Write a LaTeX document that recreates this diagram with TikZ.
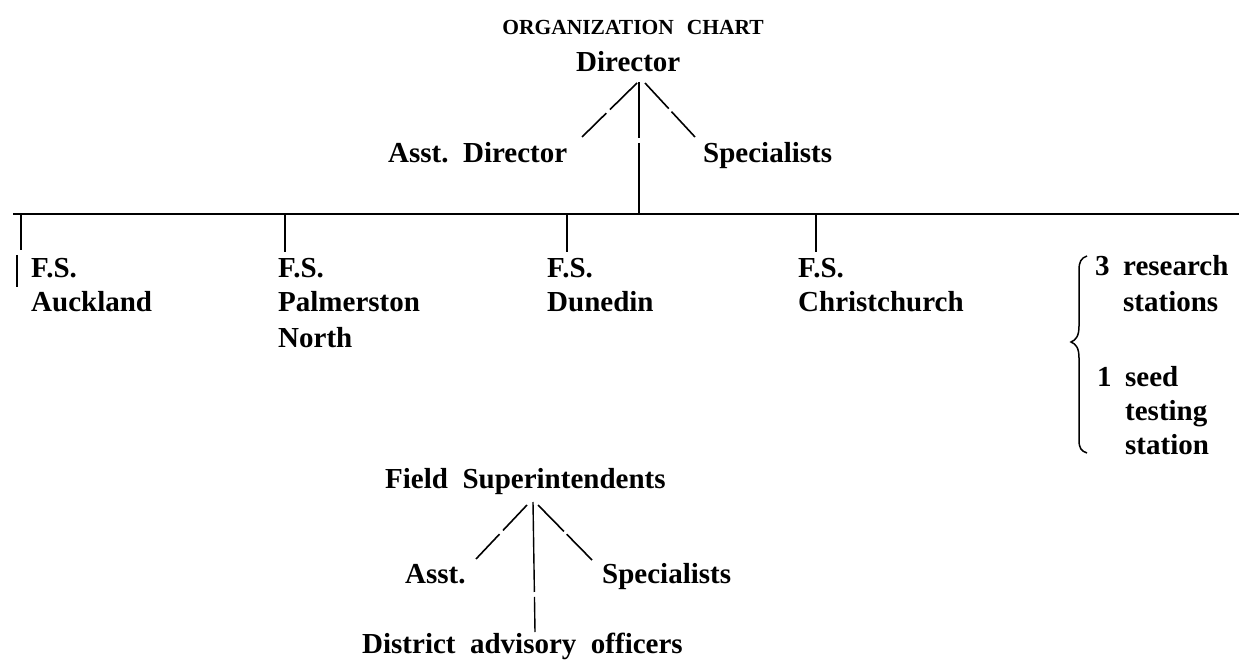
\documentclass[tikz,border=0pt]{standalone}
\usepackage{fontspec}
\setmainfont{Liberation Serif}
\newcommand\lblfont{\fontsize{29}{34}\selectfont\bfseries\frenchspacing\spaceskip 0.5em\relax}
\newcommand\ttlfont{\fontsize{21.5}{24}\selectfont\bfseries\frenchspacing\spaceskip 0.6em\relax}
\tikzset{
  lbl/.style={inner sep=0pt, anchor=base west, font=\lblfont},
  ttl/.style={inner sep=0pt, anchor=base, font=\ttlfont},
  conn/.style={line width=1.6pt, line cap=butt},
  rule/.style={line width=2pt},
}
\begin{document}
\begin{tikzpicture}[x=1pt,y=-1pt]
\useasboundingbox (0,0) rectangle (1239,660);
% --- top part
\node[ttl] (title) at (633,35) {ORGANIZATION CHART};
\node[lbl] (dir) at (576,72) {Director};
\node[lbl] (ad) at (388,163) {Asst. Director};
\node[lbl] (spec) at (703,163) {Specialists};
\coordinate (dirL) at (637,83);
\coordinate (dirR) at (645,83);
\coordinate (dirV) at (639,82);
\coordinate (adT) at (582,137);
\coordinate (spT) at (695,137);
\coordinate (hv) at (639,214);
\draw[conn, dash pattern=on 38pt off 5pt on 40pt off 0pt] (dirL) -- (adT);
\draw[conn, dash pattern=on 35pt off 4pt on 40pt off 0pt] (dirR) -- (spT);
\draw[conn, line width=1.4pt, dash pattern=on 56pt off 5pt on 80pt off 0pt] (dirV) -- (hv);
% --- horizontal rule
\coordinate (h0) at (13,214);
\coordinate (h1) at (1239,214);
\draw[rule] (h0) -- (h1);
% --- ticks
\coordinate (t1a) at (21,215); \coordinate (t1b) at (21,250);
\coordinate (b1a) at (17,255); \coordinate (b1b) at (17,287);
\coordinate (t2a) at (285,215); \coordinate (t2b) at (285,252);
\coordinate (t3a) at (567,215); \coordinate (t3b) at (567,252);
\coordinate (t4a) at (816,215); \coordinate (t4b) at (816,252);
\draw[conn, line width=1.3pt] (t1a) -- (t1b);
\draw[conn, line width=1.3pt] (b1a) -- (b1b);
\draw[conn, line width=1.3pt] (t2a) -- (t2b);
\draw[conn, line width=1.3pt] (t3a) -- (t3b);
\draw[conn, line width=1.3pt] (t4a) -- (t4b);
% --- field stations
\node[lbl] (fs1) at (31,278) {F.S.};
\node[lbl] (fs1b) at (31,312) {Auckland};
\node[lbl] (fs2) at (278,278) {F.S.};
\node[lbl] (fs2b) at (278,312) {Palmerston};
\node[lbl] (fs2c) at (278,347) {North};
\node[lbl] (fs3) at (547,278) {F.S.};
\node[lbl] (fs3b) at (547,312) {Dunedin};
\node[lbl] (fs4) at (798,278) {F.S.};
\node[lbl] (fs4b) at (798,312) {Christchurch};
% --- brace
\coordinate (brT) at (1087,256);
\coordinate (brM) at (1071,342);
\coordinate (brB) at (1087,453);
\draw[line width=1.5pt] (brT) .. controls (1081,258) and (1079,262) .. (1079,270)
  -- (1079,326) .. controls (1079,336) and (1076,340) .. (brM)
  .. controls (1076,344) and (1079,348) .. (1079,358)
  -- (1079,440) .. controls (1079,448) and (1081,451) .. (brB);
\node[lbl] (r3) at (1095,276) {3};
\node[lbl] (r3a) at (1123,276) {research};
\node[lbl] (r3b) at (1123,311) {stations};
\node[lbl] (s1) at (1097,386) {1};
\node[lbl] (s1a) at (1125,386) {seed};
\node[lbl] (s1b) at (1125,420) {testing};
\node[lbl] (s1c) at (1125,454) {station};
% --- bottom part
\node[lbl] (fsup) at (385,488) {Field Superintendents};
\node[lbl] (asst) at (405,583) {Asst.};
\node[lbl] (spec2) at (602,583) {Specialists};
\node[lbl] (dist) at (362,653) {District advisory officers};
\coordinate (fL) at (527,505);
\coordinate (fR) at (538,505);
\coordinate (fV) at (533,502);
\coordinate (asT) at (476,559);
\coordinate (spB) at (592,560);
\coordinate (diT) at (535,632);
\draw[conn, dash pattern=on 35pt off 5pt on 40pt off 0pt] (fL) -- (asT);
\draw[conn, dash pattern=on 37pt off 4pt on 40pt off 0pt] (fR) -- (spB);
\draw[conn, line width=1.4pt, dash pattern=on 90pt off 5pt on 40pt off 0pt] (fV) -- (diT);
\end{tikzpicture}
\end{document}
